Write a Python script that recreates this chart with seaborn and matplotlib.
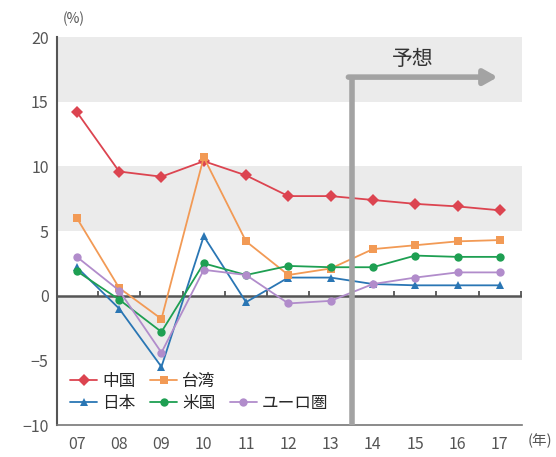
import pandas as pd
import matplotlib.pyplot as plt
from matplotlib.lines import Line2D
import seaborn as sns

# 実質GDP成長率（%）
years = ["07", "08", "09", "10", "11", "12", "13", "14", "15", "16", "17"]
china = [14.2, 9.6, 9.2, 10.4, 9.3, 7.7, 7.7, 7.4, 7.1, 6.9, 6.6]
taiwan = [6.0, 0.6, -1.8, 10.7, 4.2, 1.6, 2.1, 3.6, 3.9, 4.2, 4.3]
japan = [2.2, -1.0, -5.5, 4.6, -0.5, 1.4, 1.4, 0.9, 0.8, 0.8, 0.8]
usa = [1.9, -0.3, -2.8, 2.5, 1.6, 2.3, 2.2, 2.2, 3.1, 3.0, 3.0]
euro = [3.0, 0.4, -4.4, 2.0, 1.6, -0.6, -0.4, 0.9, 1.4, 1.8, 1.8]

series = {"中国": china, "日本": japan, "台湾": taiwan, "米国": usa, "ユーロ圏": euro}
palette = {"中国": "#dc4450", "台湾": "#f29a55", "日本": "#2a76b4",
           "米国": "#1e9f52", "ユーロ圏": "#b18ccb"}
markers = {"中国": "D", "台湾": "s", "日本": "^", "米国": "o", "ユーロ圏": "o"}

rows = []
for name, vals in series.items():
    for i, v in enumerate(vals):
        rows.append({"year": i, "region": name, "value": v})
df = pd.DataFrame(rows)

sns.set_style("white")
plt.rcParams['font.family'] = ['Noto Sans CJK JP', 'DejaVu Sans']

fig = plt.figure(figsize=(5.56, 4.57), dpi=100)
ax = fig.add_axes([0.1025, 0.070, 0.836, 0.849])

# background bands
for lo, hi in [(15, 20), (5, 10), (-5, 0)]:
    ax.axhspan(lo, hi, color="#ebebeb", lw=0, zorder=0)

sns.lineplot(data=df, x="year", y="value", hue="region", style="region",
             palette=palette, markers=markers, dashes=False, ax=ax,
             linewidth=1.3, markersize=6, markeredgewidth=0, zorder=3)

ax.set_xlim(-0.47, 10.52)
ax.set_ylim(-10, 20)
ax.set_xticks(range(len(years)))
ax.set_xticklabels(years)
ax.set_yticks([-10, -5, 0, 5, 10, 15, 20])
ax.set_yticklabels(["−10", "−5", "0", "5", "10", "15", "20"])
ax.set_xlabel("")
ax.set_ylabel("")
ax.tick_params(axis="x", length=0, pad=8, labelsize=11.5)
ax.tick_params(axis="y", length=4, width=1.5, direction="inout", pad=4,
               labelsize=11.5, color="#444444")
for lbl in ax.get_xticklabels() + ax.get_yticklabels():
    lbl.set_color("#555555")

for s in ["top", "right"]:
    ax.spines[s].set_visible(False)
ax.spines["left"].set_color("#555555")
ax.spines["left"].set_linewidth(1.5)
ax.spines["bottom"].set_color("#777777")
ax.spines["bottom"].set_linewidth(1.2)

# zero line with small year-boundary ticks
ax.axhline(0, color="#555555", lw=1.8, zorder=2)
ax.vlines([i + 0.5 for i in range(len(years))], 0, 0.4, color="#555555",
          lw=1.3, zorder=2)

# forecast marker
ax.plot([6.5, 6.5], [-10, 16.9], color="#a3a3a3", lw=4, zorder=4,
        solid_capstyle="butt")
ax.annotate("", xy=(9.95, 16.9), xytext=(6.42, 16.9),
            arrowprops=dict(arrowstyle="-|>,head_length=0.8,head_width=0.45",
                            color="#a3a3a3", lw=4, shrinkA=0, shrinkB=0),
            zorder=4)
ax.text(7.95, 18.3, "予想", ha="center", va="center", fontsize=15,
        color="#333333")

fig.text(0.112, 0.958, "(%)", ha="left", va="center", fontsize=10,
         color="#555555")
fig.text(0.972, 0.035, "(年)", ha="center", va="center", fontsize=10.5,
         color="#555555")

handles, labels = ax.get_legend_handles_labels()
hmap = dict(zip(labels, handles))
blank = Line2D([], [], linestyle="none", marker=None)
order = ["中国", "日本", "台湾", "米国", None, "ユーロ圏"]
leg_h = [hmap[k] if k else blank for k in order]
leg_l = [k if k else "" for k in order]
ax.legend(leg_h, leg_l, ncol=3, loc="lower left", bbox_to_anchor=(0.0, 0.0),
          frameon=False, fontsize=12, handlelength=1.6, handletextpad=0.3,
          columnspacing=0.9, labelspacing=0.3, borderpad=0.3)

fig.savefig("out.png", dpi=100)
